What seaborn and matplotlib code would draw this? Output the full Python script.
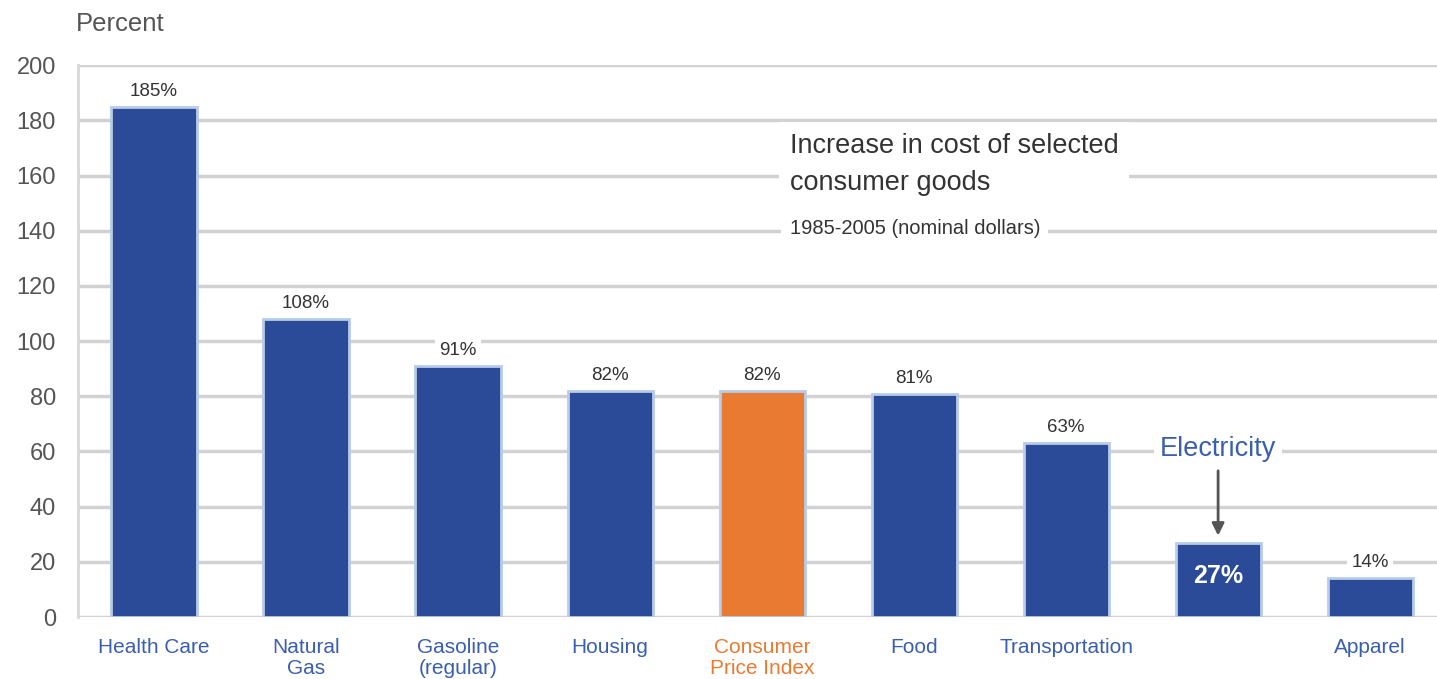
import matplotlib
matplotlib.use("Agg")
import matplotlib.pyplot as plt
import seaborn as sns
import pandas as pd

categories = ["Health Care", "Natural\nGas", "Gasoline\n(regular)", "Housing",
              "Consumer\nPrice Index", "Food", "Transportation", "Electricity", "Apparel"]
tick_labels = ["Health Care", "Natural\nGas", "Gasoline\n(regular)", "Housing",
               "Consumer\nPrice Index", "Food", "Transportation", "", "Apparel"]
values = [185, 108, 91, 82, 82, 81, 63, 27, 14]
value_labels = ["185%", "108%", "91%", "82%", "82%", "81%", "63%", "27%", "14%"]
yticks = [0, 20, 40, 60, 80, 100, 120, 140, 160, 180, 200]

BLUE = "#2b4a98"
ORANGE = "#e97a32"
bar_colors = [ORANGE if c.startswith("Consumer") else BLUE for c in categories]

sns.set_theme(style="white")
plt.rcParams['font.family'] = ['Liberation Sans', 'DejaVu Sans']

fig = plt.figure(figsize=(14.37, 6.79), dpi=100)
ax = fig.add_axes([0.0543, 0.0913, 0.9457, 0.8127])

df = pd.DataFrame({"cat": categories, "val": values})
sns.barplot(data=df, x="cat", y="val", hue="cat", palette=bar_colors, legend=False,
            width=0.56, edgecolor="#b8cbe8", linewidth=2, ax=ax, zorder=3, saturation=1)

ax.set_ylim(0, 200)
ax.set_xlim(-0.5, 8.44)
ax.set_yticks(yticks)
ax.set_yticklabels([str(v) for v in yticks], fontsize=17, color="#555555")
ax.yaxis.grid(True, color="#d2d2d2", linewidth=2.5, zorder=0)
ax.xaxis.grid(False)
ax.set_axisbelow(True)
ax.tick_params(axis="y", length=0, pad=16)
ax.tick_params(axis="x", length=0, pad=15)
for s in ["top", "right", "bottom"]:
    ax.spines[s].set_visible(False)
ax.spines["left"].set_color("#d8d8d8")
ax.spines["left"].set_linewidth(2)
ax.set_xlabel("")
ax.set_ylabel("")

ax.set_xticks(range(len(categories)))
ax.set_xticklabels(tick_labels, fontsize=15)
for lbl, col in zip(ax.get_xticklabels(), bar_colors):
    lbl.set_color(ORANGE if col == ORANGE else "#3a5fb0")
    lbl.set_linespacing(1.15)
    lbl.set_verticalalignment("top")

for i, (v, t) in enumerate(zip(values, value_labels)):
    if categories[i] == "Electricity":
        ax.text(i, v - 12, t, ha="center", va="center", fontsize=18, color="white",
                fontweight="bold", zorder=5)
    else:
        ax.text(i, v + 2.5, t, ha="center", va="bottom", fontsize=13.5, color="#333333",
                zorder=5, bbox=dict(facecolor="white", edgecolor="none", pad=3))

# Electricity annotation
ax.annotate("", xy=(7, 28.5), xytext=(7, 54),
            arrowprops=dict(arrowstyle="-|>", color="#555555", lw=2, mutation_scale=18), zorder=5)
ax.text(7.0, 61, "Electricity", ha="center", va="center", fontsize=19.5, color="#3a5fb0",
        zorder=5, bbox=dict(facecolor="white", edgecolor="none", pad=4))

# Title block
fig.text(0.5495, 0.758, "Increase in cost of selected\nconsumer goods", ha="left", va="center",
         fontsize=19.5, color="#333333", linespacing=1.55,
         bbox=dict(facecolor="white", edgecolor="none", pad=8))
fig.text(0.5495, 0.664, "1985-2005 (nominal dollars)", ha="left", va="center",
         fontsize=14.5, color="#333333",
         bbox=dict(facecolor="white", edgecolor="none", pad=6))

fig.text(0.053, 0.965, "Percent", ha="left", va="center", fontsize=18.5, color="#555555")

fig.savefig("out.png", dpi=100)
